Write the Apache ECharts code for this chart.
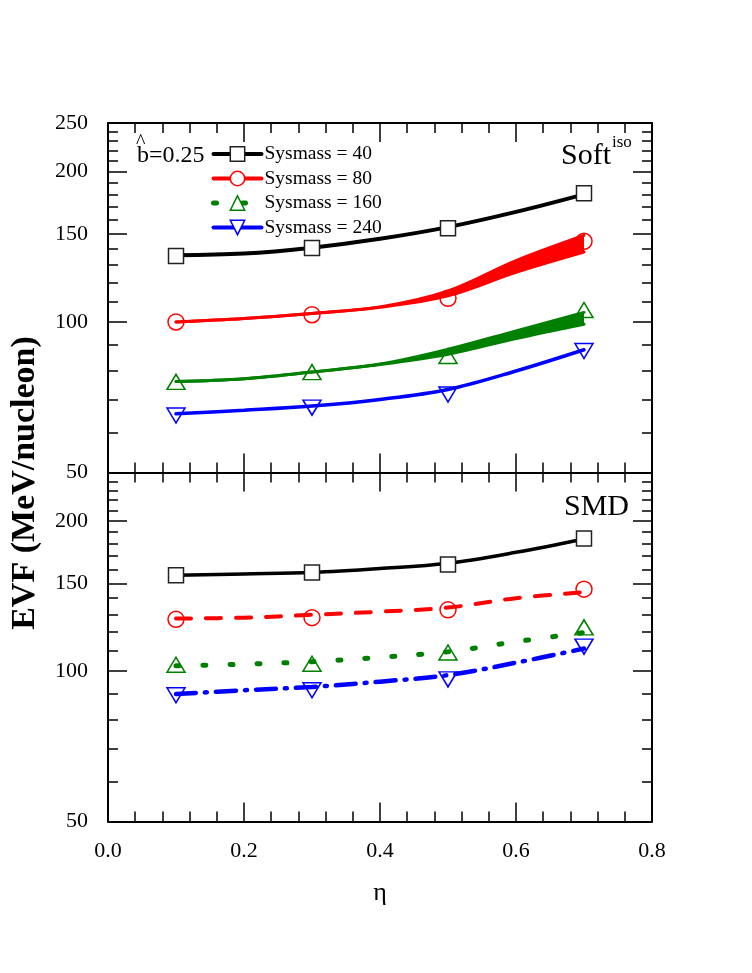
<!DOCTYPE html>
<html>
<head>
<meta charset="utf-8">
<script src="https://cdn.jsdelivr.net/npm/echarts@6/dist/echarts.min.js"></script>
<style>
  html, body { margin: 0; padding: 0; background: #fff; }
  #chart { width: 752px; height: 973px; }
</style>
</head>
<body>
<div id="chart"></div>
<script>
// eta of the simulated points and of the fitted curves
const eta = [0.1, 0.3, 0.5, 0.7];
const curveEta = [0.1, 0.2, 0.3, 0.4, 0.5, 0.6, 0.7];

// Soft-iso panel: points
const soft40 = [135.5, 140.6, 154, 181];
const soft80 = [100, 103.4, 111.5, 145];
const soft160 = [75.9, 79.4, 85.5, 105.7];
const soft240 = [65, 67.4, 71.6, 87.5];
// Soft-iso panel: fitted curves (80 and 160 are bands: low / high edge)
const softFit40 = [136, 137, 140.8, 146.7, 154.8, 166, 180];
const softFit80Lo = [100, 101.6, 104, 107, 112.8, 125.7, 138];
const softFit80Hi = [100, 101.6, 104, 107.2, 115.4, 132.7, 149];
const softFit160Lo = [76, 77, 79.4, 82.2, 86.2, 92.7, 99];
const softFit160Hi = [76, 77, 79.4, 82.4, 88.2, 96, 104.5];
const softFit240 = [65.5, 66.6, 67.9, 70, 73.3, 79.8, 88];

// SMD panel: points
const smd40 = [155.7, 157.6, 163.5, 184.5];
const smd80 = [127, 128, 132.7, 146];
const smd160 = [103, 103.5, 109, 122.4];
const smd240 = [89.5, 91.6, 96.3, 112];
// SMD panel: fitted curves
const smdFit40 = [155.7, 156.6, 157.6, 160.5, 164.5, 173, 184];
const smdFit80 = [127.5, 128, 129.7, 131.6, 134.1, 140, 144];
const smdFit160 = [102.5, 103.3, 104.5, 106.6, 109.4, 114.6, 119.5];
const smdFit240 = [90, 91.6, 93, 95.3, 98.2, 104, 111];

// axis ticks
const yMajor = [50, 100, 150, 200, 250];
const yMinor = [60, 70, 80, 90, 110, 120, 130, 140, 160, 170, 180, 190, 210, 220, 230, 240];
const yLabelsTop = [50, 100, 150, 200, 250];
const yLabelsBottom = [50, 100, 150, 200];

const names = ['Sysmass = 40', 'Sysmass = 80', 'Sysmass = 160', 'Sysmass = 240'];
const BLACK = '#000', RED = '#ff0000', GREEN = '#008000', BLUE = '#0000ff';
const FONT = 'Liberation Serif';
const downTri = 'path://M0,0 L20,0 L10,17 Z';
const SMOOTH = 0.35;

const zip = (xs, ys) => xs.map((x, i) => [x, ys[i]]);

const chart = echarts.init(document.getElementById('chart'));

function xAxes(grid, labels) {
  const base = {
    type: 'value', gridIndex: grid, min: 0, max: 0.8, interval: 0.2, z: 10,
    axisLine: { show: true, onZero: false, lineStyle: { color: BLACK, width: 2 } },
    axisTick: { inside: true, length: 19, lineStyle: { color: BLACK, width: 1.5 } },
    minorTick: { show: true, splitNumber: 5, length: 10, lineStyle: { color: BLACK, width: 1.5 } },
    splitLine: { show: false }
  };
  return [
    Object.assign({}, base, {
      position: 'bottom',
      axisLabel: {
        show: labels, margin: 19, fontFamily: FONT, fontSize: 22, color: BLACK,
        formatter: v => v.toFixed(1)
      }
    }),
    Object.assign({}, base, { position: 'top', axisLabel: { show: false } })
  ];
}

function yAxes(grid, labelValues) {
  const base = {
    type: 'log', logBase: 10, gridIndex: grid, min: 50, max: 250, z: 10,
    splitLine: { show: false }
  };
  const major = (pos, showLabel) => Object.assign({}, base, {
    position: pos,
    axisLine: { show: true, lineStyle: { color: BLACK, width: 2 } },
    axisTick: { inside: true, length: 19, customValues: yMajor, lineStyle: { color: BLACK, width: 1.5 } },
    axisLabel: showLabel ? {
      show: true, margin: 20, customValues: labelValues,
      fontFamily: FONT, fontSize: 22, color: BLACK
    } : { show: false }
  });
  const minor = pos => Object.assign({}, base, {
    position: pos,
    axisLine: { show: false },
    axisTick: { inside: true, length: 10, customValues: yMinor, lineStyle: { color: BLACK, width: 1.5 } },
    axisLabel: { show: false }
  });
  return [major('left', true), minor('left'), major('right', false), minor('right')];
}

function curve(name, xIdx, yIdx, ys, color, width, type, symbol) {
  return {
    name: name, type: 'line', xAxisIndex: xIdx, yAxisIndex: yIdx,
    data: zip(curveEta, ys), smooth: SMOOTH, symbol: symbol, showSymbol: false,
    lineStyle: { color: color, width: width, type: type || 'solid', cap: 'round' },
    itemStyle: { color: color },
    silent: true, z: 3
  };
}

// filled area from a curve down to the axis minimum; the white one masks
// everything under the lower edge so only the band between stays coloured
function area(name, xIdx, yIdx, ys, fill) {
  return {
    name: name, type: 'line', xAxisIndex: xIdx, yAxisIndex: yIdx,
    data: zip(curveEta, ys), smooth: SMOOTH, symbol: 'none', showSymbol: false,
    lineStyle: { width: 0, opacity: 0 },
    areaStyle: { color: fill, opacity: 1, origin: 'start' },
    silent: true, z: 1
  };
}

function points(name, xIdx, yIdx, ys, symbol, size, color, fill) {
  return {
    name: name, type: 'scatter', xAxisIndex: xIdx, yAxisIndex: yIdx,
    data: zip(eta, ys), symbol: symbol, symbolSize: size,
    itemStyle: { color: fill, borderColor: color, borderWidth: 1.5, opacity: 1 },
    silent: true, z: 5
  };
}

const clear = 'rgba(255,255,255,0)';

const series = [
  // top panel (Soft iso): bands
  area('a80hi', 0, 0, softFit80Hi, RED),
  area('a80lo', 0, 0, softFit80Lo, '#fff'),
  area('a160hi', 0, 0, softFit160Hi, GREEN),
  area('a160lo', 0, 0, softFit160Lo, '#fff'),
  // top panel curves
  curve(names[0], 0, 0, softFit40, BLACK, 4, 'solid', 'rect'),
  curve(names[1], 0, 0, softFit80Lo, RED, 3, 'solid', 'circle'),
  curve('h80', 0, 0, softFit80Hi, RED, 3, 'solid', 'none'),
  curve(names[2], 0, 0, softFit160Lo, GREEN, 3, 'solid', 'triangle'),
  curve('h160', 0, 0, softFit160Hi, GREEN, 3, 'solid', 'none'),
  curve(names[3], 0, 0, softFit240, BLUE, 3.5, 'solid', downTri),
  points('p40', 0, 0, soft40, 'rect', 15, '#222', '#fff'),
  points('p80', 0, 0, soft80, 'circle', 16, RED, clear),
  points('p160', 0, 0, soft160, 'triangle', [18, 15], GREEN, clear),
  points('p240', 0, 0, soft240, downTri, [18, 15], BLUE, clear),
  // bottom panel (SMD)
  curve('SMD 40', 2, 4, smdFit40, BLACK, 3.5, 'solid', 'rect'),
  curve('SMD 80', 2, 4, smdFit80, RED, 4, [15, 15], 'circle'),
  curve('SMD 160', 2, 4, smdFit160, GREEN, 5, [3, 24], 'triangle'),
  curve('SMD 240', 2, 4, smdFit240, BLUE, 4.5, [20, 9, 2, 9], downTri),
  points('q40', 2, 4, smd40, 'rect', 15, '#222', '#fff'),
  points('q80', 2, 4, smd80, 'circle', 16, RED, clear),
  points('q160', 2, 4, smd160, 'triangle', [18, 15], GREEN, clear),
  points('q240', 2, 4, smd240, downTri, [18, 15], BLUE, clear)
];

const legendColors = [BLACK, RED, GREEN, BLUE];
const legendBorders = ['#222', RED, GREEN, BLUE];

const option = {
  animation: false,
  backgroundColor: '#fff',
  grid: [
    { left: 108, right: 100, top: 123, height: 349.5 },
    { left: 108, right: 100, top: 472.5, height: 349 }
  ],
  xAxis: [].concat(xAxes(0, false), xAxes(1, true)),
  yAxis: [].concat(yAxes(0, yLabelsTop), yAxes(1, yLabelsBottom)),
  legend: {
    orient: 'vertical', left: 211, top: 144, padding: 0, z: 20,
    itemWidth: 48, itemHeight: 18, itemGap: 4.5, selectedMode: false,
    textStyle: { fontFamily: FONT, fontSize: 19.5, color: BLACK, padding: [0, 0, 0, -2] },
    data: names.map((n, i) => ({
      name: n,
      itemStyle: { color: '#fff', borderColor: legendBorders[i], borderWidth: 1.5 },
      lineStyle: i === 2
        ? { color: GREEN, width: 5, type: [3, 26], cap: 'round' }
        : { color: legendColors[i], width: 4, type: 'solid' }
    }))
  },
  graphic: [
    { type: 'text', x: 136, y: 133, style: { text: '^', fontFamily: FONT, fontSize: 20, fill: BLACK } },
    { type: 'text', x: 137, y: 168, style: { text: 'b=0.25', fontFamily: FONT, fontSize: 24, fill: BLACK, verticalAlign: 'bottom', textVerticalAlign: 'bottom' } },
    { type: 'text', x: 611, y: 171, style: { text: 'Soft', fontFamily: FONT, fontSize: 30, fill: BLACK, align: 'right', textAlign: 'right', verticalAlign: 'bottom', textVerticalAlign: 'bottom' } },
    { type: 'text', x: 612, y: 134, style: { text: 'iso', fontFamily: FONT, fontSize: 17, fill: BLACK } },
    { type: 'text', x: 629, y: 522, style: { text: 'SMD', fontFamily: FONT, fontSize: 30, fill: BLACK, align: 'right', textAlign: 'right', verticalAlign: 'bottom', textVerticalAlign: 'bottom' } },
    { type: 'text', x: 380, y: 893, style: { text: 'η', fontFamily: FONT, fontSize: 26, fill: BLACK, align: 'center', textAlign: 'center', verticalAlign: 'middle', textVerticalAlign: 'middle' } },
    { type: 'text', x: 25, y: 483, rotation: Math.PI / 2, style: { text: 'EVF (MeV/nucleon)', fontFamily: FONT, fontSize: 34, fontWeight: 'bold', fill: BLACK, align: 'center', textAlign: 'center', verticalAlign: 'middle', textVerticalAlign: 'middle' } }
  ],
  series: series
};

chart.setOption(option);
</script>
</body>
</html>
